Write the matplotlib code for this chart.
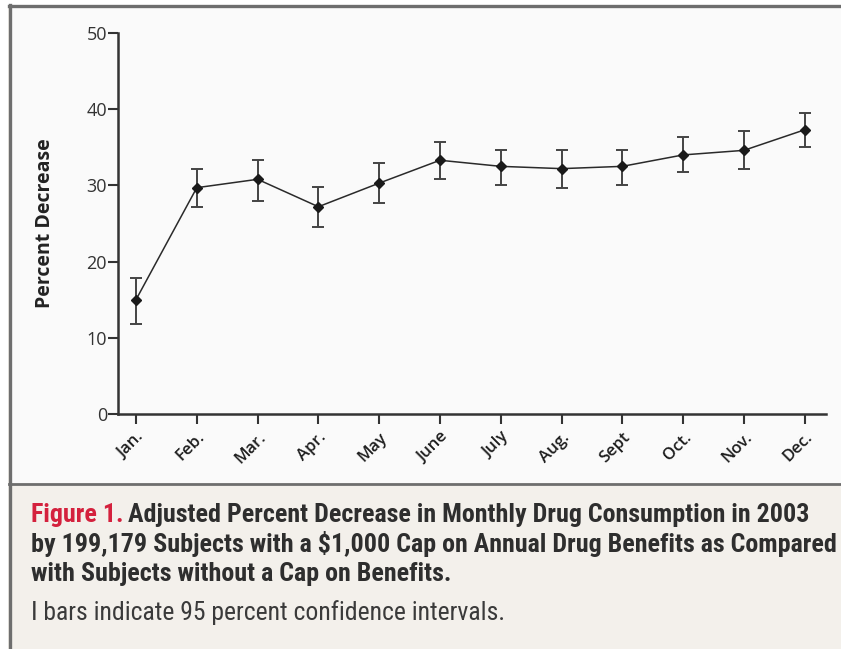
import matplotlib
matplotlib.use("Agg")
import matplotlib.pyplot as plt
from matplotlib import font_manager
from matplotlib.patches import Rectangle
from matplotlib.lines import Line2D

# Monthly adjusted percent decrease with 95% confidence limits
months = ["Jan.", "Feb.", "Mar.", "Apr.", "May", "June",
          "July", "Aug.", "Sept", "Oct.", "Nov.", "Dec."]
pct_decrease = [15.0, 29.7, 30.8, 27.2, 30.3, 33.3, 32.5, 32.2, 32.5, 34.0, 34.6, 37.3]
ci_low = [11.8, 27.1, 28.0, 24.5, 27.7, 30.8, 30.0, 29.7, 30.0, 31.7, 32.1, 35.0]
ci_high = [17.9, 32.2, 33.3, 29.8, 32.9, 35.7, 34.7, 34.7, 34.7, 36.3, 37.1, 39.5]
y_ticks = [0, 10, 20, 30, 40, 50]

caption_lead = "Figure 1."
caption_lines = [
    "Adjusted Percent Decrease in Monthly Drug Consumption in 2003",
    "by 199,179 Subjects with a $1,000 Cap on Annual Drug Benefits as Compared",
    "with Subjects without a Cap on Benefits.",
]
caption_note = "I bars indicate 95 percent confidence intervals."

# pick a narrow face if one is installed
available = {f.name for f in font_manager.fontManager.ttflist}
narrow = None
for cand in ["Liberation Sans Narrow", "Roboto Condensed", "Open Sans Condensed",
             "DejaVu Sans Condensed"]:
    if cand in available:
        narrow = cand
        break
if narrow is None:
    narrow = "Liberation Sans"

W, H = 841, 649
fig = plt.figure(figsize=(W / 100, H / 100), dpi=100)
fig.patch.set_facecolor("#f3f0eb")

# panel backgrounds and frame (figure pixel coordinates)
def px_rect(x0, y0, x1, y1, **kw):
    fig.patches.append(Rectangle((x0 / W, 1 - y1 / H), (x1 - x0) / W, (y1 - y0) / H,
                                 transform=fig.transFigure, figure=fig, zorder=-2, **kw))

px_rect(0, 0, W, 8, facecolor="white", edgecolor="none")
px_rect(0, 0, 8, H, facecolor="white", edgecolor="none")
px_rect(10, 6, W, 483, facecolor="#fafafa", edgecolor="none")

def px_line(x0, y0, x1, y1, lw, color):
    fig.lines.append(Line2D([x0 / W, x1 / W], [1 - y0 / H, 1 - y1 / H],
                            transform=fig.transFigure, color=color, lw=lw, zorder=5))

px_line(9, 5.5, W, 5.5, 2.4, "#6e6e6e")
px_line(9.5, 4.5, 9.5, H, 2.4, "#6e6e6e")
px_line(9, 483.5, W, 483.5, 2.0, "#6e6e6e")

# plot area
ax_l, ax_r, ax_b, ax_t = 118, 826, 414, 33
ax = fig.add_axes([ax_l / W, 1 - ax_b / H, (ax_r - ax_l) / W, (ax_b - ax_t) / H])
ax.set_facecolor("none")
ax.set_zorder(1)

x = list(range(len(months)))
yerr = [[p - lo for p, lo in zip(pct_decrease, ci_low)],
        [hi - p for p, hi in zip(pct_decrease, ci_high)]]
ax.errorbar(x, pct_decrease, yerr=yerr, fmt="none", ecolor="#444444",
            elinewidth=1.4, capsize=4.2, capthick=1.4, zorder=2)
ax.plot(x, pct_decrease, color="#2a2a2a", lw=1.1, marker="D", markersize=5.5,
        markerfacecolor="#1a1a1a", markeredgecolor="#1a1a1a", zorder=3)

tick_family = ["Open Sans", "Liberation Sans", "DejaVu Sans"]
ax.set_xlim(-0.296, 11.35)
ax.set_ylim(0, 50)
ax.set_yticks(y_ticks)
ax.set_xticks(x)
ax.set_xticklabels(months, rotation=45, ha="right", va="top", rotation_mode="anchor",
                   fontsize=12, fontweight="semibold", color="#1e1e1e", family=tick_family)
ax.tick_params(axis="x", length=7, width=1.5, color="#333333", pad=4)
ax.tick_params(axis="y", length=7, width=1.5, color="#333333", pad=1, labelsize=13,
               labelcolor="#333333")
for lab in ax.get_yticklabels():
    lab.set_family(tick_family)

for side in ("top", "right"):
    ax.spines[side].set_visible(False)
for side in ("left", "bottom"):
    ax.spines[side].set_linewidth(1.8)
    ax.spines[side].set_color("#333333")

ax.set_ylabel("Percent Decrease", fontsize=14, fontweight="bold", color="#222222",
              family=tick_family)
ax.yaxis.set_label_coords(-0.089, 0.5)

# caption block
cap_kw = dict(transform=fig.transFigure, fontsize=18.7, fontweight="bold",
              family=[narrow, "DejaVu Sans"], va="baseline", ha="left")
lead = fig.text(31 / W, 1 - 522 / H, caption_lead, color="#d4213d", **cap_kw)
fig.canvas.draw()
renderer = fig.canvas.get_renderer()
bb = lead.get_window_extent(renderer)
fig.text(bb.x1 / W + 4 / W, 1 - 522 / H, caption_lines[0], color="#2e2e2e", **cap_kw)
fig.text(31 / W, 1 - 552 / H, caption_lines[1], color="#2e2e2e", **cap_kw)
fig.text(31 / W, 1 - 581 / H, caption_lines[2], color="#2e2e2e", **cap_kw)
fig.text(31 / W, 1 - 620 / H, caption_note, color="#3a3a3a", transform=fig.transFigure,
         fontsize=18.5, family=[narrow, "DejaVu Sans"], va="baseline", ha="left")

fig.savefig("out.png", dpi=100)
